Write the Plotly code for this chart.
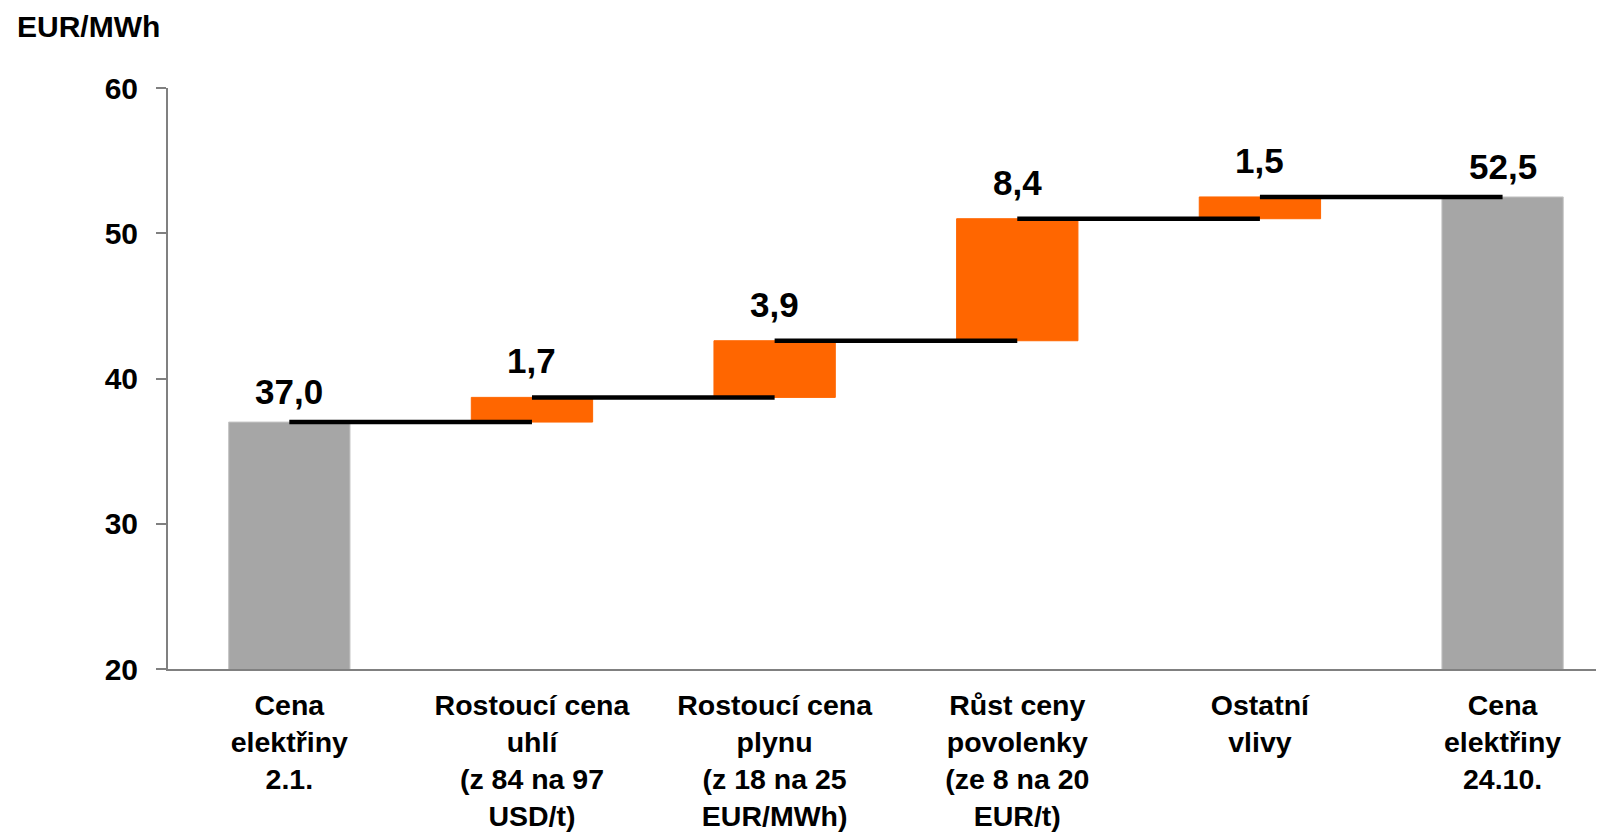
import plotly.graph_objects as go

categories = [
    "Cena<br>elektřiny<br>2.1.",
    "Rostoucí cena<br>uhlí<br>(z 84 na 97<br>USD/t)",
    "Rostoucí cena<br>plynu<br>(z 18 na 25<br>EUR/MWh)",
    "Růst ceny<br>povolenky<br>(ze 8 na 20<br>EUR/t)",
    "Ostatní<br>vlivy",
    "Cena<br>elektřiny<br>24.10.",
]
start_value = 37.0
deltas = [1.7, 3.9, 8.4, 1.5]
end_value = 52.5
value_labels = ["37,0", "1,7", "3,9", "8,4", "1,5", "52,5"]
y_ticks = [20, 30, 40, 50, 60]

GRAY = "#A6A6A6"
ORANGE = "#FF6600"
FONT = "Liberation Sans, Arial, sans-serif"

# compute bar bases and tops from data
bases = [0]
tops = [start_value]
level = start_value
for d in deltas:
    bases.append(level)
    level = level + d
    tops.append(level)
bases.append(0)
tops.append(end_value)
heights = [t - b for t, b in zip(tops, bases)]
n = len(categories)
colors = [GRAY] + [ORANGE] * len(deltas) + [GRAY]
edge_colors = ["#C4C4C4"] + [ORANGE] * len(deltas) + ["#C4C4C4"]
xs = list(range(n))

fig = go.Figure()
fig.add_trace(go.Bar(
    x=xs, y=heights, base=bases, width=0.5,
    marker=dict(color=colors, line=dict(width=1, color=edge_colors)),
    hoverinfo="skip", showlegend=False,
))

# connectors: from centre of bar i to centre of bar i+1 at level of bar i top
for i in range(n - 1):
    fig.add_trace(go.Scatter(
        x=[xs[i], xs[i + 1]], y=[tops[i], tops[i]],
        mode="lines", line=dict(color="black", width=4.5),
        hoverinfo="skip", showlegend=False,
    ))

for i, lab in enumerate(value_labels):
    is_delta = 0 < i < n - 1
    fig.add_annotation(
        x=xs[i], y=tops[i], text="<b>%s</b>" % lab, showarrow=False,
        yanchor="bottom", yshift=15 if is_delta else 9,
        font=dict(family=FONT, size=35, color="black"),
    )

fig.add_annotation(
    xref="paper", yref="paper", x=-0.1065, y=1.105, xanchor="left", yanchor="middle",
    text="<b>EUR/MWh</b>", showarrow=False,
    font=dict(family=FONT, size=30, color="black"),
)

# page body has an 8px margin, so the figure is sized to fit the window
fig.update_layout(
    width=1596, height=825,
    margin=dict(l=160, r=0, t=80, b=164),
    plot_bgcolor="white", paper_bgcolor="white",
    font=dict(family=FONT, color="black"),
)
fig.update_xaxes(
    tickmode="array", tickvals=xs,
    ticktext=["<b>%s</b>" % c for c in categories],
    range=[-0.5, 5.418], showline=True, linecolor="#808080", linewidth=2,
    ticks="", showgrid=False, ticklabelstandoff=10, automargin=False,
    tickfont=dict(family=FONT, size=28.5, color="black"),
    zeroline=False,
)
fig.update_yaxes(
    range=[20, 60], tickvals=y_ticks,
    ticktext=["<b>%d</b>" % v for v in y_ticks],
    showline=True, linecolor="#808080", linewidth=2,
    ticks="outside", ticklen=10, tickcolor="#808080", tickwidth=2,
    showgrid=False, zeroline=False, ticklabelstandoff=12, automargin=False,
    tickfont=dict(family=FONT, size=30, color="black"),
)

fig.write_html("out.html")
